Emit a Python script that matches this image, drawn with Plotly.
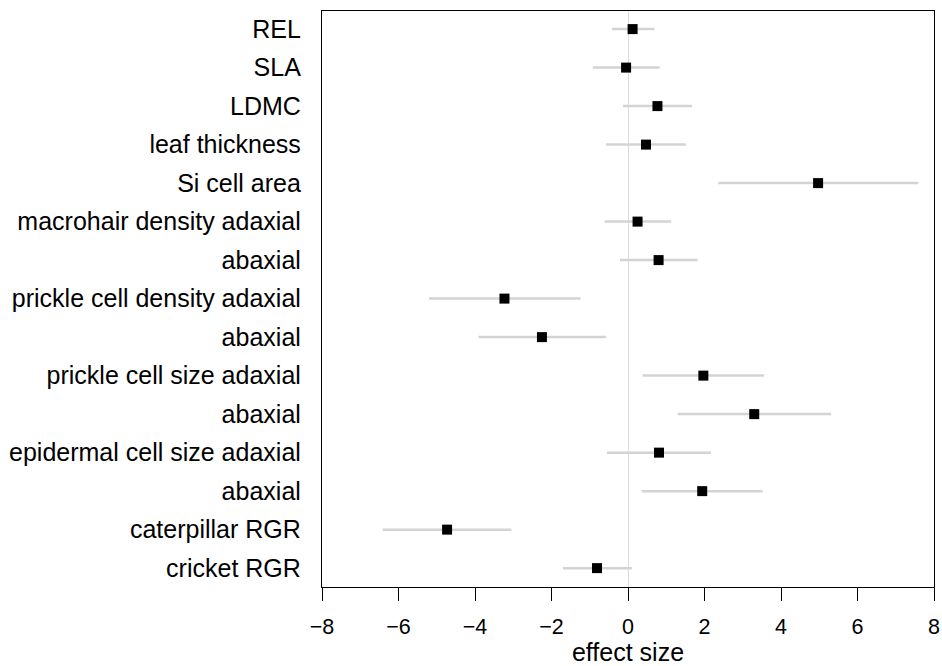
import plotly.graph_objects as go

labels = ["REL", "SLA", "LDMC", "leaf thickness", "Si cell area",
          "macrohair density adaxial", "abaxial",
          "prickle cell density adaxial", "abaxial",
          "prickle cell size adaxial", "abaxial",
          "epidermal cell size adaxial", "abaxial",
          "caterpillar RGR", "cricket RGR"]
estimate = [0.12, -0.05, 0.77, 0.47, 4.97, 0.25, 0.80, -3.23, -2.25, 1.97, 3.30, 0.81, 1.94, -4.73, -0.81]
lower = [-0.42, -0.92, -0.13, -0.57, 2.36, -0.61, -0.21, -5.20, -3.91, 0.38, 1.30, -0.55, 0.36, -6.41, -1.70]
upper = [0.69, 0.83, 1.67, 1.51, 7.59, 1.13, 1.82, -1.24, -0.58, 3.56, 5.31, 2.17, 3.52, -3.05, 0.10]
xticks = [-8, -6, -4, -2, 0, 2, 4, 6, 8]

ypos = list(range(len(labels)))
fig = go.Figure()
fig.add_trace(go.Scatter(
    x=estimate, y=ypos, mode="markers",
    marker=dict(symbol="square", size=10, color="black"),
    error_x=dict(type="data", symmetric=False,
                 array=[u - e for u, e in zip(upper, estimate)],
                 arrayminus=[e - l for e, l in zip(estimate, lower)],
                 color="#d3d3d3", thickness=2.5, width=0),
    showlegend=False))

font = dict(family="Liberation Sans, Arial, sans-serif", size=25, color="black")
fig.update_layout(
    width=942, height=666, plot_bgcolor="white", paper_bgcolor="white",
    margin=dict(l=322, r=8, t=11, b=79),
    font=font,
    xaxis=dict(range=[-8, 8], tickvals=xticks, ticks="outside", ticklen=13,
               tickwidth=1.3, tickcolor="black", showline=True, linecolor="black",
               linewidth=1.3, mirror=True, showgrid=False, zeroline=True,
               zerolinecolor="#dcdcdc", zerolinewidth=1.2, automargin=False,
               ticklabelstandoff=7,
               title=dict(text="effect size", standoff=4, font=dict(size=25)),
               tickfont=dict(size=21.5)),
    yaxis=dict(range=[14.49, -0.47], tickvals=ypos, ticktext=labels,
               ticks="", showline=True, linecolor="black", linewidth=1.3,
               mirror=True, showgrid=False, zeroline=False, ticklabelstandoff=15,
               automargin=False, tickfont=dict(size=25)),
)
fig.write_html("out.html", config={"displayModeBar": False},
               post_script="document.body.style.margin='0';document.body.style.overflow='hidden';")
